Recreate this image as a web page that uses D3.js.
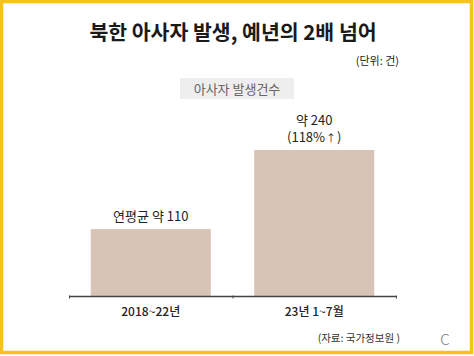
<!DOCTYPE html>
<html><head><meta charset="utf-8">
<script src="https://cdn.jsdelivr.net/npm/d3@7"></script>
<style>html,body{margin:0;padding:0;background:#fff;}svg{display:block;}</style>
</head><body>
<script>
const categories = ["2018~22년", "23년 1~7월"];
const values = [110, 240];
const valueLabels = [["연평균 약 110"], ["약 240", "(118%↑)"]];
const title = "북한 아사자 발생, 예년의 2배 넘어";
const unitText = "(단위: 건)";
const legendText = "아사자 발생건수";
const sourceText = "(자료: 국가정보원 )";

const W = 474, H = 356;
const font = "'Noto Sans CJK KR','Noto Sans',sans-serif";
const svg = d3.select("body").append("svg").attr("width", W).attr("height", H);

svg.append("rect").attr("x", 0).attr("y", 0).attr("width", W).attr("height", H).attr("fill", "#fff");
// yellow frame
svg.append("rect").attr("x", 1.5).attr("y", 1.5).attr("width", W - 4).attr("height", H - 5)
  .attr("fill", "none").attr("stroke", "#F8C21C").attr("stroke-width", 3.5);

svg.append("text").attr("x", 233).attr("y", 40).attr("text-anchor", "middle")
  .attr("font-family", font).attr("font-weight", 700).attr("font-size", 20.5).attr("fill", "#1a1a1a").text(title);
svg.append("text").attr("x", 399).attr("y", 65).attr("text-anchor", "end")
  .attr("font-family", font).attr("font-size", 11).attr("fill", "#222").text(unitText);

svg.append("rect").attr("x", 180).attr("y", 78).attr("width", 114).attr("height", 21).attr("fill", "#eeeeee");
svg.append("text").attr("x", 237).attr("y", 93.5).attr("text-anchor", "middle")
  .attr("font-family", font).attr("font-size", 13).attr("fill", "#666").text(legendText);

const x = d3.scaleBand().domain(categories).range([69, 396]).paddingInner(0.266).paddingOuter(0.133);
const y = d3.scaleLinear().domain([0, 240]).range([296, 150]);

svg.selectAll("rect.bar").data(values).join("rect").attr("class", "bar")
  .attr("x", (d, i) => x(categories[i])).attr("width", x.bandwidth())
  .attr("y", d => y(d)).attr("height", d => y(0) - y(d)).attr("fill", "#d7c4b6");

const axis = d3.axisBottom(d3.scaleLinear().domain([0, 2]).range([69, 396])).tickValues([0, 1, 2]).tickSize(3).tickFormat("");
const ag = svg.append("g").attr("transform", "translate(0,296.5)").call(axis);
ag.select(".domain").attr("stroke", "#444").attr("stroke-width", 1.5).attr("d", "M69,0H396");
ag.selectAll(".tick line").attr("stroke", "#444").attr("y1", -1).attr("y2", 2);

svg.selectAll("text.cat").data(categories).join("text").attr("class", "cat")
  .attr("x", d => x(d) + x.bandwidth() / 2).attr("y", 316).attr("text-anchor", "middle")
  .attr("font-family", font).attr("font-size", 12).attr("font-weight", 500).attr("fill", "#222").text(d => d);

values.forEach((v, i) => {
  const lines = valueLabels[i];
  lines.forEach((t, j) => {
    const tx = svg.append("text").attr("x", x(categories[i]) + x.bandwidth() / 2)
      .attr("y", y(v) - 8 - (lines.length - 1 - j) * 17)
      .attr("text-anchor", "middle").attr("font-family", font).attr("font-size", 13).attr("fill", "#222");
    const parts = t.split("↑");
    if (parts.length > 1) {
      tx.append("tspan").text(parts[0]);
      tx.append("tspan").attr("font-size", 10).attr("dx", 1).text("↑");
      tx.append("tspan").attr("dx", 1).text(parts[1]);
    } else tx.text(t);
  });
});

svg.append("text").attr("x", 400).attr("y", 342).attr("text-anchor", "end")
  .attr("font-family", font).attr("font-size", 10.5).attr("fill", "#333").text(sourceText);
svg.append("text").attr("x", 445).attr("y", 345).attr("text-anchor", "middle")
  .attr("font-family", font).attr("font-weight", 300).attr("font-size", 15).attr("fill", "#777").text("C");
</script>
</body></html>
